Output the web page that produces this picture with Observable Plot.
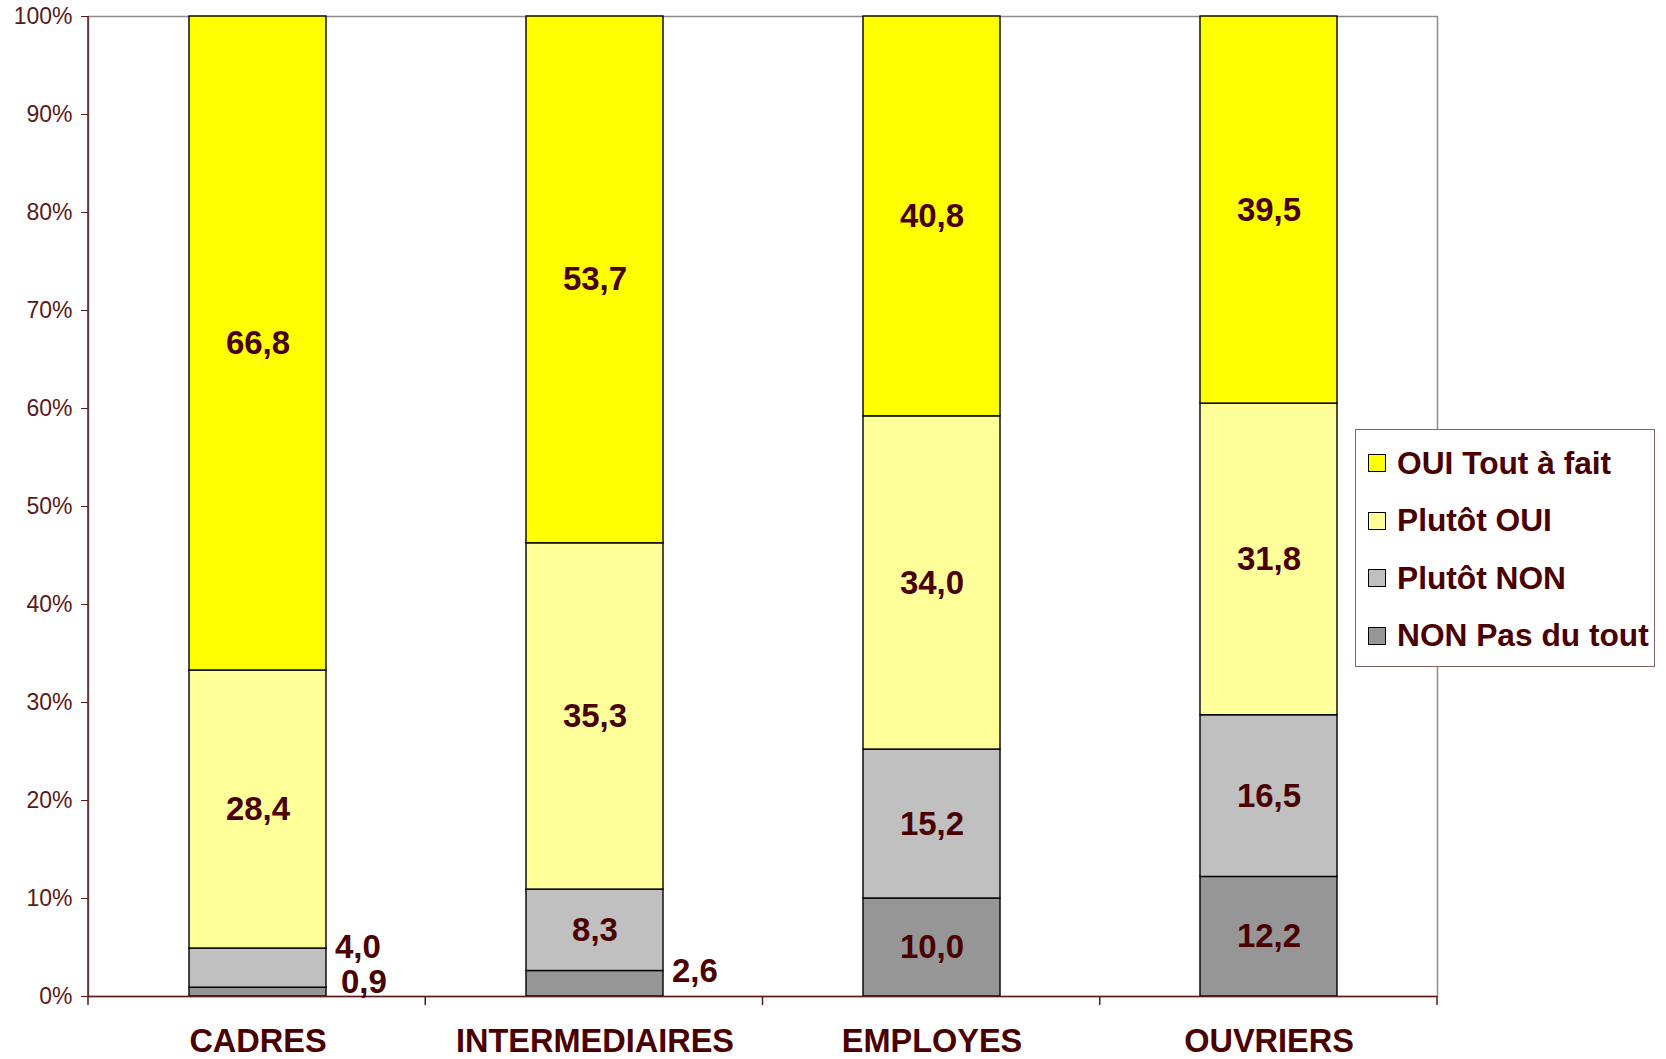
<!DOCTYPE html>
<html><head><meta charset="utf-8">
<script src="https://cdn.jsdelivr.net/npm/d3@7"></script>
<script src="https://cdn.jsdelivr.net/npm/@observablehq/plot@0.6"></script>
<style>
body{margin:0;background:#fff;}
#wrap{position:relative;width:1666px;height:1059px;font-family:"Liberation Sans",Arial,sans-serif;}
#legend{position:absolute;left:1355px;top:429px;width:300px;height:238px;border:1.5px solid #8a6464;background:#fff;box-sizing:border-box;}
.item{position:absolute;left:12px;height:36px;display:flex;align-items:center;font-weight:bold;font-size:31.7px;color:#4a0000;white-space:nowrap;font-family:"Liberation Sans",Arial,sans-serif;}
.sw{width:16px;height:16px;border:1.5px solid #000;margin-right:11px;flex:none}
</style></head><body><div id="wrap"></div>
<script>
const categories = ["CADRES", "INTERMEDIAIRES", "EMPLOYES", "OUVRIERS"];
const series = ["NON Pas du tout", "Plutôt NON", "Plutôt OUI", "OUI Tout à fait"];
const nonPasDuTout = [0.9, 2.6, 10.0, 12.2];
const plutotNon = [4.0, 8.3, 15.2, 16.5];
const plutotOui = [28.4, 35.3, 34.0, 31.8];
const ouiToutAFait = [66.8, 53.7, 40.8, 39.5];
const seriesColors = ["#969696", "#C0C0C0", "#FFFF99", "#FFFF00"];
const yTicks = [0, 0.1, 0.2, 0.3, 0.4, 0.5, 0.6, 0.7, 0.8, 0.9, 1.0];

const valuesBySeries = [nonPasDuTout, plutotNon, plutotOui, ouiToutAFait];
const data = [];
categories.forEach((c, i) => {
  series.forEach((s, j) => data.push({cat: c, series: s, value: valuesBySeries[j][i]}));
});

const fmt = v => d3.format(".1f")(v).replace(".", ",");
const labelColor = "#4a0000";
const axisColor = "#5a1a1a";
const stackOpts = extra => Plot.stackY({x: "cat", y: "value", z: "series", order: series, offset: "normalize", ...extra});
const isSmall = d => d.value < 5;
const valFont = 33;

const chart = Plot.plot({
  width: 1666,
  height: 1059,
  marginLeft: 88,
  marginRight: 229,
  marginTop: 16,
  marginBottom: 63,
  style: {fontFamily: "'Liberation Sans', Arial, sans-serif", background: "#fff"},
  x: {domain: categories, paddingInner: 0.594, paddingOuter: 0.297, axis: null},
  y: {domain: [0, 1], axis: null},
  color: {domain: series, range: seriesColors},
  marks: [
    Plot.frame({stroke: "#8c8c8c", strokeWidth: 1.5}),
    Plot.barY(data, stackOpts({fill: "series", stroke: "#000", strokeWidth: 1.4})),
    Plot.ruleY([0], {stroke: axisColor, strokeWidth: 1.5}),
    Plot.axisY({ticks: yTicks, tickFormat: d3.format(".0%"), tickSize: 7, tickPadding: 9, fontSize: 23, color: axisColor, label: null}),
    Plot.text(data, stackOpts({text: d => isSmall(d) ? "" : fmt(d.value), fill: labelColor, fontSize: valFont, fontWeight: "bold"})),
    Plot.text(data, stackOpts({text: d => (d.cat === "CADRES" && d.series === "Plutôt NON") ? fmt(d.value) : "", textAnchor: "start", dx: 77, dy: -21, fill: labelColor, fontSize: valFont, fontWeight: "bold"})),
    Plot.text(data, stackOpts({text: d => (d.cat === "CADRES" && d.series === "NON Pas du tout") ? fmt(d.value) : "", textAnchor: "start", dx: 83, dy: -10, fill: labelColor, fontSize: valFont, fontWeight: "bold"})),
    Plot.text(data, stackOpts({text: d => (d.cat === "INTERMEDIAIRES" && d.series === "NON Pas du tout") ? fmt(d.value) : "", textAnchor: "start", dx: 77, dy: -12, fill: labelColor, fontSize: valFont, fontWeight: "bold"})),
    Plot.text(categories, {x: d => d, frameAnchor: "bottom", dy: 55, text: d => d, fill: labelColor, fontSize: 32.5, fontWeight: "bold"})
  ]
});

const wrap = document.getElementById("wrap");
wrap.appendChild(chart);

// left axis line and category boundary ticks, from the scales
const xs = chart.scale("x");
const ys = chart.scale("y");
const svg = d3.select(chart);
const [x0, x1] = xs.range;
const [yb, yt] = ys.range;
svg.append("line").attr("x1", x0).attr("x2", x0).attr("y1", yb).attr("y2", yt)
  .attr("stroke", axisColor).attr("stroke-width", 1.5);
const n = categories.length;
for (let i = 0; i <= n; i++) {
  const x = x0 + i * (x1 - x0) / n;
  svg.append("line").attr("x1", x).attr("x2", x).attr("y1", yb).attr("y2", yb + 9)
    .attr("stroke", axisColor).attr("stroke-width", 1.5);
}

// legend
const legend = document.createElement("div");
legend.id = "legend";
series.slice().reverse().forEach((s, i) => {
  const it = document.createElement("div");
  it.className = "item";
  it.style.top = (15 + i * 57.5) + "px";
  const sw = document.createElement("span");
  sw.className = "sw";
  sw.style.background = seriesColors[series.indexOf(s)];
  const tx = document.createElement("span");
  tx.textContent = s;
  it.appendChild(sw); it.appendChild(tx);
  legend.appendChild(it);
});
wrap.appendChild(legend);
</script></body></html>
